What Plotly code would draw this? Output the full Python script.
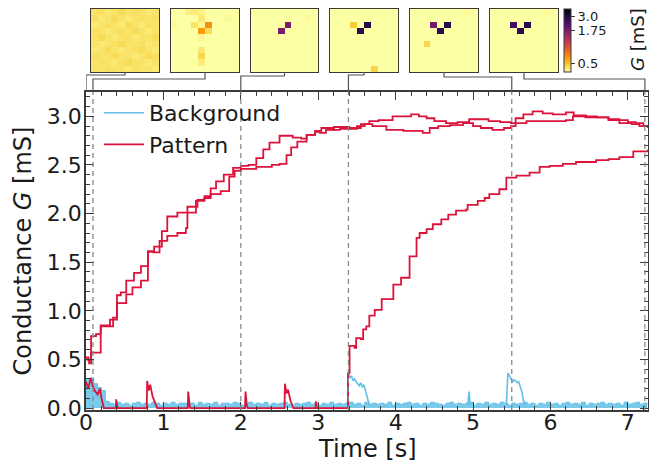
import numpy as np
import plotly.graph_objects as go

W, H = 649, 465

# ---------------- data ----------------
# Pattern pixel A (step trace)
pat_a_t = [0.0, 0.03, 0.065, 0.13, 0.19, 0.31, 0.40, 0.45, 0.52, 0.62, 0.71, 0.80, 0.88, 0.98, 1.05,
           1.18, 1.31, 1.44, 1.53, 1.61, 1.68, 1.78, 1.90, 2.0, 2.1, 2.20, 2.29, 2.37, 2.50, 2.67,
           2.78, 2.85, 2.96, 3.04, 3.12, 3.2, 3.3, 3.41, 3.55, 3.66, 3.78, 3.96, 4.2, 4.3, 4.4,
           4.5, 4.65, 4.8, 4.95, 5.08, 5.2, 5.35, 5.49, 5.55, 5.65, 5.77, 5.9, 6.03, 6.2, 6.3,
           6.46, 6.6, 6.75, 6.89, 7.0, 7.1, 7.2, 7.26]
pat_a_g = [0.52, 0.49, 0.74, 0.76, 0.85, 0.91, 1.16, 1.19, 1.31, 1.39, 1.46, 1.61, 1.66, 1.82, 1.97,
           2.01, 2.07, 2.14, 2.18, 2.26, 2.33, 2.40, 2.47, 2.49, 2.50, 2.57, 2.66, 2.73, 2.80, 2.78,
           2.77, 2.81, 2.85, 2.88, 2.86, 2.89, 2.87, 2.88, 2.92, 2.95, 2.96, 3.00, 3.02, 3.00, 2.98,
           2.95, 2.93, 2.94, 2.97, 2.97, 2.95, 2.94, 2.93, 2.98, 3.02, 3.05, 3.03, 3.02, 3.04, 3.01,
           3.00, 2.99, 2.97, 2.96, 2.94, 2.93, 2.90, 2.90]
# Pattern pixel B (step trace)
pat_b_t = [0.0, 0.04, 0.065, 0.19, 0.35, 0.40, 0.52, 0.60, 0.71, 0.80, 0.87, 0.95, 1.05, 1.18, 1.29,
           1.31, 1.42, 1.53, 1.61, 1.74, 1.85, 1.92, 2.0, 2.2, 2.4, 2.5, 2.59, 2.65, 2.73, 2.85,
           2.96, 3.02, 3.1, 3.2, 3.28, 3.4, 3.5, 3.6, 3.7, 3.88, 4.1, 4.35, 4.44, 4.55, 4.7,
           4.87, 5.0, 5.1, 5.25, 5.4, 5.49, 5.55, 5.69, 5.9, 6.2, 6.29, 6.45, 6.59, 6.75, 6.89,
           7.05, 7.15, 7.26]
pat_b_g = [0.50, 0.46, 0.57, 0.84, 0.93, 1.08, 1.17, 1.24, 1.31, 1.61, 1.60, 1.72, 1.77, 1.80, 1.85,
           2.01, 2.13, 2.16, 2.20, 2.23, 2.38, 2.44, 2.46, 2.48, 2.50, 2.51, 2.60, 2.68, 2.74, 2.81,
           2.84, 2.83, 2.88, 2.86, 2.89, 2.87, 2.90, 2.92, 2.90, 2.86, 2.85, 2.83, 2.88, 2.90, 2.91,
           2.93, 2.90, 2.88, 2.86, 2.88, 2.90, 2.93, 2.95, 2.95, 2.96, 3.00, 2.99, 2.99, 2.96, 2.93,
           2.92, 2.90, 2.88]
# Pattern pixel C: unprogrammed spikes, then programmed from 3.4 s
pat_c_pre_t = [0.0, 0.03, 0.06, 0.09, 0.12, 0.15, 0.18, 0.20, 0.23, 0.385, 0.39, 0.41, 0.785, 0.79,
               0.81, 0.83, 0.86, 0.89, 0.92, 1.315, 1.32, 1.34, 1.35, 2.055, 2.06, 2.08, 2.09,
               2.565, 2.57, 2.59, 2.61, 2.64, 2.68, 2.965, 2.97, 2.98, 3.38]
pat_c_pre_g = [0.27, 0.20, 0.31, 0.22, 0.17, 0.14, 0.20, 0.10, 0.0, 0.0, 0.09, 0.0, 0.0, 0.28,
               0.18, 0.24, 0.12, 0.05, 0.0, 0.0, 0.17, 0.02, 0.0, 0.0, 0.17, 0.02, 0.0,
               0.0, 0.25, 0.15, 0.19, 0.08, 0.0, 0.0, 0.07, 0.0, 0.0]
pat_c_t = [3.38, 3.385, 3.405, 3.47, 3.49, 3.55, 3.58, 3.62, 3.66, 3.73, 3.82, 3.97, 4.07, 4.18,
           4.27, 4.31, 4.40, 4.48, 4.59, 4.68, 4.78, 4.91, 4.93, 5.06, 5.15, 5.21, 5.34, 5.43,
           5.56, 5.73, 5.86, 5.99, 6.16, 6.33, 6.59, 6.75, 6.89, 7.07, 7.26]
pat_c_g = [0.0, 0.36, 0.64, 0.62, 0.72, 0.71, 0.81, 0.84, 0.95, 1.01, 1.12, 1.27, 1.34, 1.56,
           1.75, 1.80, 1.84, 1.89, 1.94, 1.99, 2.03, 2.04, 2.09, 2.13, 2.16, 2.20, 2.25, 2.37,
           2.39, 2.42, 2.48, 2.49, 2.51, 2.53, 2.55, 2.56, 2.58, 2.64, 2.66]

# Background: top of the dense noise band (sampled every 0.05 s), in mS/100
bg_band_t = np.round(np.arange(0, 146) * 0.05, 2)
bg_band_cs = [29, 31, 25, 21, 18, 7,
              5, 4, 6, 4, 5, 3, 5, 6, 4, 5,
              4, 6, 5, 3, 5, 4, 6, 4, 5, 5,
              4, 5, 3, 6, 4, 5, 4, 6, 3, 5,
              5, 4, 6, 5, 3, 4, 6, 4, 5, 4,
              6, 3, 5, 4, 5, 6, 4, 3, 5, 4,
              5, 6, 4, 5, 3, 5, 4, 6, 4, 5,
              4, 5, 6, 4, 5, 3, 6, 4, 5, 4,
              5, 4, 6, 3, 5, 4, 5, 6, 4, 5,
              3, 5, 4, 6, 5, 4, 3, 5, 6, 4,
              5, 4, 5, 6, 3, 5, 4, 6, 4, 5,
              4, 6, 5, 3, 5, 4, 5, 6, 4, 5,
              3, 5, 4, 6, 4, 5, 3, 5, 6, 4,
              5, 4, 6, 3, 5, 4, 5, 6, 4, 5,
              4, 5, 3, 6, 4, 5, 6, 4, 5, 4]
bg_band_g = [v / 100 for v in bg_band_cs]
# Background disturbances (line)
bg_ev_t = [3.38, 3.39, 3.41, 3.43, 3.45, 3.47, 3.49, 3.51, 3.53, 3.55, 3.57, 3.59, 3.61, 3.63, 3.65, 3.67, None,
           4.93, 4.94, 4.95, 4.96, 4.97, None,
           5.43, 5.45, 5.47, 5.49, 5.51, 5.53, 5.55, 5.57, 5.59, 5.61, 5.63, 5.65, 5.67]
bg_ev_g = [0.03, 0.36, 0.31, 0.33, 0.28, 0.30, 0.27, 0.25, 0.23, 0.26, 0.22, 0.24, 0.17, 0.12, 0.06, 0.03, None,
           0.03, 0.16, 0.17, 0.05, 0.03, None,
           0.03, 0.36, 0.33, 0.30, 0.27, 0.29, 0.28, 0.26, 0.27, 0.22, 0.17, 0.08, 0.03]

# Snapshot times (s) and 10x10 conductance maps (mS)
snap_times = [0.0, 0.09, 2.0, 3.39, 5.5, 7.22]
LOW = 0.05
def blank():
    return [[LOW] * 10 for _ in range(10)]

snap0 = [[0.42, 0.43, 0.41, 0.42, 0.44, 0.42, 0.43, 0.42, 0.41, 0.42],
         [0.43, 0.41, 0.42, 0.44, 0.42, 0.41, 0.42, 0.43, 0.42, 0.43],
         [0.41, 0.42, 0.43, 0.42, 0.41, 0.44, 0.42, 0.41, 0.43, 0.42],
         [0.43, 0.42, 0.41, 0.42, 0.43, 0.42, 0.44, 0.42, 0.41, 0.42],
         [0.42, 0.44, 0.42, 0.41, 0.42, 0.43, 0.41, 0.42, 0.42, 0.44],
         [0.42, 0.41, 0.42, 0.43, 0.44, 0.42, 0.42, 0.43, 0.41, 0.42],
         [0.41, 0.42, 0.44, 0.42, 0.41, 0.42, 0.43, 0.44, 0.42, 0.41],
         [0.43, 0.42, 0.42, 0.44, 0.42, 0.42, 0.41, 0.42, 0.44, 0.43],
         [0.42, 0.43, 0.42, 0.41, 0.43, 0.44, 0.42, 0.42, 0.41, 0.42],
         [0.42, 0.42, 0.43, 0.42, 0.42, 0.41, 0.43, 0.42, 0.42, 0.41]]
snap1 = blank()
for (r, c, v) in [(0, 2, 0.39), (0, 3, 0.40), (0, 4, 0.39), (1, 4, 0.41), (2, 3, 0.42), (2, 4, 0.38),
                  (2, 5, 0.66), (3, 4, 0.62), (3, 5, 0.44), (4, 4, 0.38), (6, 4, 0.41), (7, 4, 0.45),
                  (8, 4, 0.40), (1, 8, 0.37), (2, 0, 0.37)]:
    snap1[r][c] = v
snap2 = blank()
for (r, c, v) in [(2, 5, 1.80), (3, 4, 1.75), (1, 8, 0.37)]:
    snap2[r][c] = v
snap3 = blank()
for (r, c, v) in [(2, 5, 2.90), (3, 4, 2.80), (2, 3, 0.48), (9, 6, 0.46)]:
    snap3[r][c] = v
snap4 = blank()
for (r, c, v) in [(2, 5, 2.85), (3, 4, 2.80), (2, 3, 1.85), (5, 2, 0.46), (0, 8, 0.37)]:
    snap4[r][c] = v
snap5 = blank()
for (r, c, v) in [(2, 5, 2.80), (3, 4, 2.80), (2, 3, 2.45), (0, 8, 0.37)]:
    snap5[r][c] = v
snaps = [snap0, snap1, snap2, snap3, snap4, snap5]

cbar_ticks = [0.5, 1.75, 3.0]
cbar_labels = ['0.5', '1.75', '3.0']

# ---------------- style / layout constants ----------------
RED = '#DC143C'
BLUE = '#62BFE8'
AX = '#3a3a3a'
FONT = 'DejaVu Sans'
X_RANGE = [0, 7.26]
Y_RANGE = [-0.02, 3.25]
xdom = [86 / W, 648 / W]
ydom = [1 - 410 / H, 1 - 92 / H]
inset_px = [(91, 159), (171, 239), (251, 318), (330, 398), (410, 478), (490, 558)]
inset_y_px = (9, 72)
conn_level_px = [75, 79, 76, 75, 77, 79]

fig = go.Figure()

fig.add_trace(go.Scatter(x=bg_band_t, y=bg_band_g, mode='lines', line=dict(color=BLUE, width=1, shape='hv'),
                         fill='tozeroy', fillcolor='rgba(98,191,232,0.85)', showlegend=False, hoverinfo='skip'))
fig.add_trace(go.Scatter(x=bg_ev_t, y=bg_ev_g, mode='lines', line=dict(color=BLUE, width=1.6),
                         name='Background', connectgaps=False))
fig.add_trace(go.Scatter(x=pat_c_pre_t, y=pat_c_pre_g, mode='lines', line=dict(color=RED, width=1.8),
                         showlegend=False, legendgroup='p'))
fig.add_trace(go.Scatter(x=pat_a_t, y=pat_a_g, mode='lines', line=dict(color=RED, width=1.8, shape='hv'),
                         name='Pattern', legendgroup='p'))
fig.add_trace(go.Scatter(x=pat_b_t, y=pat_b_g, mode='lines', line=dict(color=RED, width=1.8, shape='hv'),
                         showlegend=False, legendgroup='p'))
fig.add_trace(go.Scatter(x=pat_c_t, y=pat_c_g, mode='lines', line=dict(color=RED, width=1.8, shape='hv'),
                         showlegend=False, legendgroup='p'))

# heatmap insets
for i, (snap, (x0, x1)) in enumerate(zip(snaps, inset_px)):
    k = i + 2
    fig.add_trace(go.Heatmap(z=np.log10(np.array(snap)), coloraxis='coloraxis',
                             xaxis=f'x{k}', yaxis=f'y{k}', hoverinfo='skip'))
    fig.update_layout(**{
        f'xaxis{k}': dict(domain=[x0 / W, x1 / W], range=[-0.5, 9.5], anchor=f'y{k}', showticklabels=False,
                          ticks='', showgrid=False, zeroline=False, showline=True, mirror=True,
                          linecolor=AX, linewidth=1.2),
        f'yaxis{k}': dict(domain=[1 - inset_y_px[1] / H, 1 - inset_y_px[0] / H], range=[9.5, -0.5],
                          anchor=f'x{k}', showticklabels=False, ticks='', showgrid=False, zeroline=False,
                          showline=True, mirror=True, linecolor=AX, linewidth=1.2),
    })

# dashed markers at snapshot times (not at t=0, which is the axis)
shapes = []
for t in snap_times[1:]:
    shapes.append(dict(type='line', xref='x', yref='y domain', x0=t, x1=t, y0=0, y1=1,
                       line=dict(color='#8a8a8a', width=1.3, dash='5px,4px'), layer='above'))
# connectors from insets to time axis
span = X_RANGE[1] - X_RANGE[0]
for t, (x0, x1), lev in zip(snap_times, inset_px, conn_level_px):
    cpaper = (x0 + x1) / 2 / W
    tc = X_RANGE[0] + (cpaper - xdom[0]) / (xdom[1] - xdom[0]) * span
    yb = 1 - inset_y_px[1] / H
    yl = 1 - lev / H
    yt = ydom[1]
    shapes.append(dict(type='path', xref='x', yref='paper',
                       path=f'M {tc},{yb} L {tc},{yl} L {t},{yl} L {t},{yt}',
                       line=dict(color='#555555', width=1.2)))

annotations = [
    dict(text='Time [s]', x=(xdom[0] + xdom[1]) / 2, y=1 - 449 / H, xref='paper', yref='paper',
         xanchor='center', yanchor='middle', showarrow=False, font=dict(size=24)),
    dict(text='<i>G</i> [mS]', x=637 / W, y=1 - 40 / H, xref='paper', yref='paper', textangle=-90,
         xanchor='center', yanchor='middle', showarrow=False, font=dict(size=18)),
]

fig.update_layout(
    width=W, height=H, margin=dict(l=0, r=0, t=0, b=0, autoexpand=False),
    paper_bgcolor='white', plot_bgcolor='white',
    font=dict(family=FONT, color='#1a1a1a'),
    shapes=shapes, annotations=annotations,
    xaxis=dict(domain=xdom, range=X_RANGE, tickvals=list(range(8)), ticks='inside', ticklen=8, tickwidth=1.3,
               tickcolor=AX, showline=True, linecolor=AX, linewidth=1.5, mirror='allticks',
               minor=dict(ticks='inside', dtick=0.2, ticklen=4, tickwidth=1, tickcolor=AX, showgrid=False),
               showgrid=False, zeroline=False, tickfont=dict(size=22), ticklabelstandoff=-8),
    yaxis=dict(domain=ydom, range=Y_RANGE, dtick=0.5, tick0=0, tickformat='.1f', ticks='inside', ticklen=8,
               tickwidth=1.3, tickcolor=AX, showline=True, linecolor=AX, linewidth=1.5, mirror='allticks',
               minor=dict(ticks='inside', dtick=0.1, ticklen=4, tickwidth=1, tickcolor=AX, showgrid=False),
               showgrid=False, zeroline=False, tickfont=dict(size=22), ticklabelstandoff=-2,
               title=dict(text='Conductance <i>G</i> [mS]', font=dict(size=24), standoff=8)),
    legend=dict(x=99 / W, y=1 - 92 / H, xanchor='left', yanchor='top', font=dict(size=22),
                bgcolor='rgba(0,0,0,0)', traceorder='normal', itemwidth=40, tracegroupgap=0),
    coloraxis=dict(
        colorscale=[[i / 9, c] for i, c in enumerate(['#fcffa4', '#f7d13d', '#fb9b06', '#ed6925', '#cf4446',
                                                     '#a52c60', '#781c6d', '#4a0c6b', '#1b0c41', '#000004'])],
        cmin=np.log10(0.36), cmax=np.log10(4.0),
        colorbar=dict(x=564 / W, xanchor='left', y=1 - 9 / H, yanchor='top', thickness=7,
                      thicknessmode='pixels', len=63, lenmode='pixels', xpad=0, ypad=0,
                      outlinewidth=1, outlinecolor=AX,
                      tickvals=list(np.log10(cbar_ticks)), ticktext=cbar_labels,
                      ticks='outside', ticklen=4, tickcolor=AX, tickfont=dict(size=13))),
)

fig.write_html('out.html')
